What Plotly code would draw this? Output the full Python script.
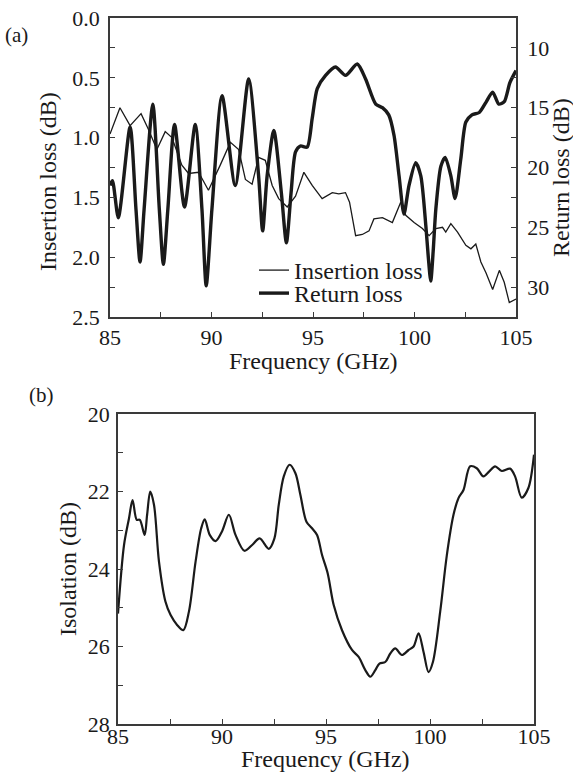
import plotly.graph_objects as go

# ---- (a) insertion loss and return loss ----
il_freq = [85.0, 85.49, 85.99, 86.53, 86.89, 87.31, 87.72, 88.05, 88.54, 88.87,
           89.36, 89.85, 90.43, 90.93, 91.34, 91.67, 92.0, 92.32, 92.65, 92.99,
           93.31, 93.73, 94.14, 94.55, 94.96, 95.45, 95.95, 96.27, 96.6, 96.8,
           97.1, 97.43, 97.76, 98.0, 98.42, 98.91, 99.32, 99.57, 99.98, 100.39,
           100.72, 101.05, 101.38, 101.54, 101.79, 102.12, 102.53, 102.78, 103.02,
           103.27, 103.52, 103.85, 104.18, 104.42, 104.67, 105.0]
il_db = [0.97, 0.75, 0.90, 0.80, 0.93, 1.10, 0.95, 1.00, 1.23, 1.30,
         1.29, 1.44, 1.23, 1.04, 1.10, 1.35, 1.39, 1.165, 1.19, 1.40,
         1.51, 1.58, 1.49, 1.29, 1.40, 1.51, 1.46, 1.47, 1.46, 1.54,
         1.82, 1.81, 1.78, 1.68, 1.67, 1.71, 1.54, 1.65, 1.71, 1.76,
         1.82, 1.76, 1.75, 1.79, 1.72, 1.79, 1.90, 1.93, 1.89,
         2.04, 2.13, 2.27, 2.11, 2.21, 2.38, 2.35]

rl_freq = [85.0, 85.12, 85.41, 85.99, 86.28, 86.48, 86.68, 87.11, 87.43, 87.63,
           87.85, 88.18, 88.67, 89.2, 89.53, 89.74, 90.02, 90.52, 91.17, 91.83,
           92.32, 92.52, 92.74, 93.07, 93.44, 93.69, 93.92, 94.14, 94.38, 94.71,
           94.96, 95.21, 95.62, 96.11, 96.6, 97.18, 97.59, 98.09, 98.42, 98.73,
           98.99, 99.24, 99.48, 99.73, 100.06, 100.31, 100.56, 100.68, 100.8, 100.92,
           101.05, 101.3, 101.51, 101.79, 102.0, 102.28, 102.53, 102.83, 103.19, 103.52,
           103.85, 104.15, 104.42, 104.7, 105.0]
rl_db = [21.5, 21.1, 24.2, 16.6, 23.5, 27.9, 23.5, 14.7, 23.5, 28.1,
         23.5, 16.4, 23.3, 16.4, 23.5, 29.9, 23.5, 14.0, 21.5, 12.6,
         20.7, 25.3, 20.7, 16.9, 22.1, 26.3, 22.1, 18.7, 18.2, 18.3,
         15.9, 13.4, 12.3, 11.6, 12.3, 11.35, 12.6, 14.7, 15.0, 15.6,
         17.3, 20.7, 23.9, 21.5, 19.6, 20.7, 24.9, 27.5, 29.5, 27.0,
         23.5, 19.9, 19.15, 20.7, 22.6, 19.3, 16.2, 15.6, 15.4, 14.55,
         13.7, 14.7, 14.5, 12.9, 11.9]

# ---- (b) isolation ----
iso_freq = [85.0, 85.29, 85.53, 85.7, 85.9, 86.05, 86.28, 86.4, 86.55, 86.73,
            86.97, 87.28, 87.53, 87.85, 88.14, 88.41, 88.73, 89.0, 89.17, 89.41,
            89.69, 90.0, 90.33, 90.65, 91.08, 91.45, 91.81, 92.25, 92.52, 92.73,
            92.97, 93.25, 93.53, 93.77, 94.06, 94.33, 94.57, 94.81, 95.08, 95.37,
            95.77, 96.25, 96.57, 96.89, 97.13, 97.37, 97.57, 97.85, 98.09, 98.33,
            98.65, 98.97, 99.21, 99.45, 99.69, 99.93, 100.14, 100.49, 100.81, 101.13,
            101.37, 101.61, 101.93, 102.25, 102.57, 102.85, 103.13, 103.45, 103.85, 104.09,
            104.41, 104.73, 105.0]
iso_db = [25.15, 23.38, 22.69, 22.22, 22.73, 22.73, 23.12, 22.6, 22.0, 22.34,
          23.81, 24.84, 25.19, 25.45, 25.58, 25.1, 23.81, 22.95, 22.72, 23.12,
          23.28, 23.03, 22.6, 23.12, 23.53, 23.38, 23.21, 23.48, 23.21, 22.34,
          21.61, 21.31, 21.53, 22.09, 22.78, 22.95, 23.12, 23.64, 24.11, 24.93,
          25.58, 26.09, 26.27, 26.61, 26.78, 26.61, 26.44, 26.4, 26.18, 26.05,
          26.22, 26.09, 26.0, 25.66, 26.14, 26.66, 26.4, 25.1, 23.64, 22.6,
          22.17, 21.96, 21.35, 21.4, 21.61, 21.48, 21.35, 21.47, 21.41, 21.61,
          22.16, 21.91, 21.05]

freq_ticks = [85, 90, 95, 100, 105]

W, H = 573, 774
SERIF = "Liberation Serif"
INK = "#1a1a1a"
AXIS = "#3a3a3a"


def px_x(p):
    return p / W


def px_y(p):
    return 1 - p / H


fig = go.Figure()

fig.add_trace(go.Scatter(
    x=il_freq, y=il_db, name="Insertion loss", mode="lines", legend="legend",
    line=dict(color=INK, width=1.3), xaxis="x", yaxis="y"))
fig.add_trace(go.Scatter(
    x=rl_freq, y=rl_db, name="Return loss", mode="lines", legend="legend2",
    line=dict(color=INK, width=3.4, shape="spline", smoothing=0.7),
    xaxis="x", yaxis="y2"))
fig.add_trace(go.Scatter(
    x=iso_freq, y=iso_db, name="Isolation", mode="lines", showlegend=False,
    line=dict(color=INK, width=2.2, shape="spline", smoothing=0.9),
    xaxis="x2", yaxis="y3"))

tickfont = dict(family=SERIF, size=22, color=INK)
common = dict(showline=True, linecolor=AXIS, linewidth=1.6, showgrid=False,
              zeroline=False, ticks="inside", ticklen=5, tickwidth=1.4,
              tickcolor=AXIS, tickfont=tickfont, automargin=False)

legend_font = dict(family=SERIF, size=24, color=INK)
legend_common = dict(xanchor="left", yanchor="top", bgcolor="rgba(0,0,0,0)",
                     borderwidth=0, font=legend_font, tracegroupgap=0,
                     itemwidth=30)

fig.update_layout(
    width=W, height=H,
    margin=dict(l=0, r=0, t=0, b=0, autoexpand=False),
    paper_bgcolor="white", plot_bgcolor="white",
    font=dict(family=SERIF, color=INK),
    xaxis=dict(domain=[px_x(110), px_x(516)], anchor="y", range=[85, 105],
               tickvals=freq_ticks, mirror=True,
               minor=dict(dtick=2.5, ticks="inside", ticklen=5, tickcolor=AXIS),
               ticklabelstandoff=0, **common),
    yaxis=dict(domain=[px_y(317), px_y(18)], anchor="x", range=[2.5, 0.0],
               tickvals=[0.0, 0.5, 1.0, 1.5, 2.0, 2.5], tickformat=".1f",
               minor=dict(dtick=0.25, ticks="inside", ticklen=5, tickcolor=AXIS),
               ticklabelstandoff=4, **common),
    yaxis2=dict(overlaying="y", anchor="x", side="right", range=[32.5, 7.5],
                tickvals=[10, 15, 20, 25, 30],
                minor=dict(dtick=2.5, ticks="inside", ticklen=5, tickcolor=AXIS),
                ticklabelstandoff=5, **common),
    xaxis2=dict(domain=[px_x(118), px_x(534)], anchor="y3", range=[85, 105],
                tickvals=freq_ticks, mirror=True,
                minor=dict(dtick=2.5, ticks="inside", ticklen=5, tickcolor=AXIS),
                ticklabelstandoff=-8, **common),
    yaxis3=dict(domain=[px_y(724), px_y(414)], anchor="x2", range=[28, 20],
                tickvals=[20, 22, 24, 26, 28], mirror=True,
                minor=dict(dtick=1, ticks="inside", ticklen=5, tickcolor=AXIS),
                ticklabelstandoff=2, **common),
    legend=dict(x=px_x(254), y=px_y(248), **legend_common),
    legend2=dict(x=px_x(254), y=px_y(271), **legend_common),
    showlegend=True,
)

title_font = dict(family=SERIF, size=24, color=INK)
annotations = [
    dict(text="(a)", x=px_x(16), y=px_y(35), font=dict(family=SERIF, size=21, color=INK)),
    dict(text="(b)", x=px_x(41), y=px_y(395), font=dict(family=SERIF, size=21, color=INK)),
    dict(text="Frequency (GHz)", x=px_x(313), y=px_y(361)),
    dict(text="Frequency (GHz)", x=px_x(325), y=px_y(759)),
    dict(text="Insertion loss (dB)", x=px_x(48), y=px_y(182), textangle=-90),
    dict(text="Return loss (dB)", x=px_x(561), y=px_y(178), textangle=-90),
    dict(text="Isolation (dB)", x=px_x(68), y=px_y(569), textangle=-90),
]
for a in annotations:
    a.setdefault("font", title_font)
    a.update(xref="paper", yref="paper", showarrow=False,
             xanchor="center", yanchor="middle")
fig.update_layout(annotations=annotations)

fig.write_html("out.html")
